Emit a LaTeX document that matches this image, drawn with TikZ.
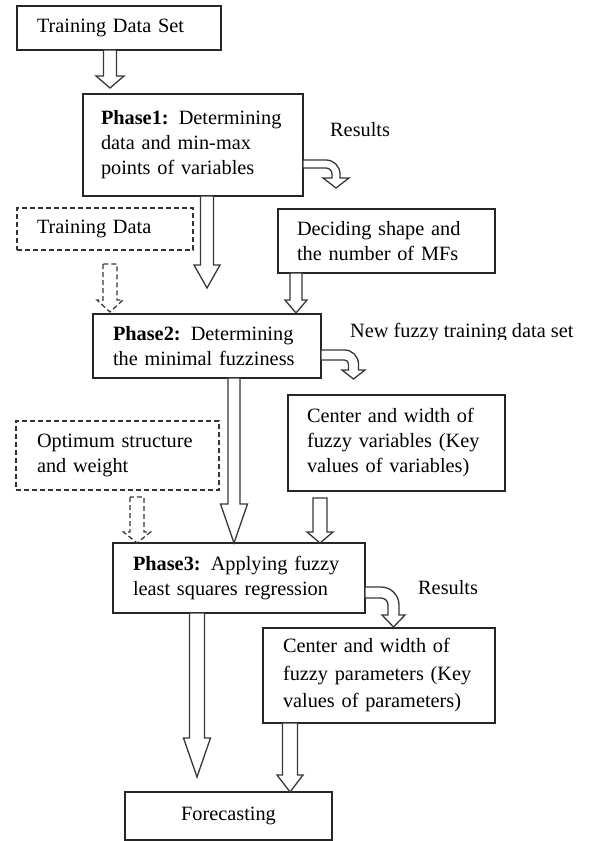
\documentclass[tikz,border=0pt]{standalone}
\usepackage{fontspec}
\setmainfont{Liberation Serif}
\usetikzlibrary{calc}
\newcommand\fs{\fontsize{20.3}{25}\selectfont}
\tikzset{
  box/.style={draw=black!85, line width=1.3pt, anchor=north west, align=left,
    inner ysep=0pt, outer sep=0pt, font=\fs},
  dbox/.style={box, draw=black!80, dash pattern=on 5pt off 3pt},
  blk/.style={draw=black!78, line width=1.3pt, fill=white, line join=miter},
  dblk/.style={blk, dash pattern=on 5pt off 3pt},
  lbl/.style={anchor=west, inner sep=0pt, font=\fs}
}
% #1 style, #2 x, #3 from anchor, #4 to anchor, #5 top gap, #6 tip gap,
% #7 shaft half width, #8 head half width, #9 head length
\newcommand\blockarrow[9]{%
  \draw[#1] let \p1=(#3), \p2=(#4) in
    (#2pt-#7pt,\y1-#5pt) -- (#2pt-#7pt,\y2+#6pt+#9pt) -- (#2pt-#8pt,\y2+#6pt+#9pt)
    -- (#2pt,\y2+#6pt) -- (#2pt+#8pt,\y2+#6pt+#9pt) -- (#2pt+#7pt,\y2+#6pt+#9pt)
    -- (#2pt+#7pt,\y1-#5pt) -- cycle;}
% #1 node, #2 band top y, #3 band width, #4 shaft centre x, #5 outer radius,
% #6 head half width, #7 head top y, #8 tip y
\newcommand\bendarrow[8]{%
  \draw[blk] let \p1=(#1.east) in
    (\x1,{-(#2)*1pt}) -- ({(#4+#3/2-#5)*1pt},{-(#2)*1pt})
    .. controls ({(#4+#3/2-#5+0.552*#5)*1pt},{-(#2)*1pt}) and ({(#4+#3/2)*1pt},{-(#2+#5-0.552*#5)*1pt}) .. ({(#4+#3/2)*1pt},{-(#2+#5)*1pt})
    -- ({(#4+#3/2)*1pt},{-(#7)*1pt}) -- ({(#4+#6)*1pt},{-(#7)*1pt})
    -- ({(#4)*1pt},{-(#8)*1pt}) -- ({(#4-#6)*1pt},{-(#7)*1pt})
    -- ({(#4-#3/2)*1pt},{-(#7)*1pt}) -- ({(#4-#3/2)*1pt},{-(#2+#5)*1pt})
    .. controls ({(#4-#3/2)*1pt},{-(#2+#5-0.552*(#5-#3))*1pt}) and ({(#4+#3/2-#5+0.552*(#5-#3))*1pt},{-(#2+#3)*1pt}) .. ({(#4+#3/2-#5)*1pt},{-(#2+#3)*1pt})
    -- (\x1,{-(#2+#3)*1pt}) -- cycle;}
\begin{document}
\begin{tikzpicture}[x=1pt,y=-1pt]
\useasboundingbox (0,0) rectangle (592,841);

\node[box, minimum height=44pt, text width=164pt, inner xsep=20pt] (tds) at (17,6) {Training Data Set};
\node[box, minimum height=102pt, text width=184pt, inner xsep=18pt] (p1) at (83,94)
  {\textbf{Phase1:} Determining\\data and min-max\\points of variables};
\node[dbox, minimum height=42pt, text width=136pt, inner xsep=20pt] (td) at (17,208) {Training Data};
\node[box, minimum height=64pt, text width=179pt, inner xsep=19pt] (dec) at (278,209)
  {Deciding shape and\\the number of MFs};
\node[box, minimum height=64pt, text width=188pt, inner xsep=20pt] (p2) at (93,314)
  {\textbf{Phase2:} Determining\\the minimal fuzziness};
\node[box, minimum height=96pt, text width=179pt, inner xsep=19pt] (cv) at (288,395)
  {Center and width of\\fuzzy variables (Key\\values of variables)};
\node[dbox, minimum height=69pt, text width=161pt, inner xsep=21pt] (opt) at (16,421)
  {Optimum structure\\and weight};
\node[box, minimum height=70pt, text width=212pt, inner xsep=20pt] (p3) at (113,543)
  {\textbf{Phase3:} Applying fuzzy\\least squares regression};
\node[box, minimum height=95pt, text width=192pt, inner xsep=20pt, font=\fontsize{20.3}{27.5}\selectfont] (cp) at (263,628)
  {Center and width of\\fuzzy parameters (Key\\values of parameters)};
\node[box, align=center, minimum height=48pt, text width=207pt, inner xsep=0pt] (fc) at (125,792) {Forecasting};

\node[lbl] (r1) at (330,130) {Results};
\begin{scope}
  \clip (340,310) rectangle (592,339);
  \node[lbl] (nf) at (350,333) {New fuzzy training data set};
\end{scope}
\node[lbl] (r2) at (418,588) {Results};

\blockarrow{blk}{110}{tds.south}{p1.north}{0}{6}{6.5}{14}{12}
\blockarrow{blk}{207}{p1.south}{p2.north}{0}{26}{6.5}{13}{23}
\blockarrow{dblk}{110}{td.south}{p2.north}{14}{2}{7}{13}{12}
\blockarrow{blk}{296}{dec.south}{p2.north}{0}{1}{6}{11}{13}
\blockarrow{blk}{234}{p2.south}{p3.north}{0}{0}{6}{13.5}{39}
\blockarrow{blk}{320}{cv.south}{p3.north}{7}{0}{7}{13}{11}
\blockarrow{dblk}{137}{opt.south}{p3.north}{7}{0}{7}{13.5}{11}
\blockarrow{blk}{197}{p3.south}{fc.north}{0}{15}{7.5}{13.5}{39}
\blockarrow{blk}{290}{cp.south}{fc.north}{0}{0}{7.5}{13}{17}

\bendarrow{p1}{160}{8}{336}{14}{13}{178}{188}
\bendarrow{p2}{350}{10}{353.5}{14}{11.5}{370}{379}
\bendarrow{p3}{587}{11}{393.5}{18}{11.5}{615}{627}
\end{tikzpicture}
\end{document}
